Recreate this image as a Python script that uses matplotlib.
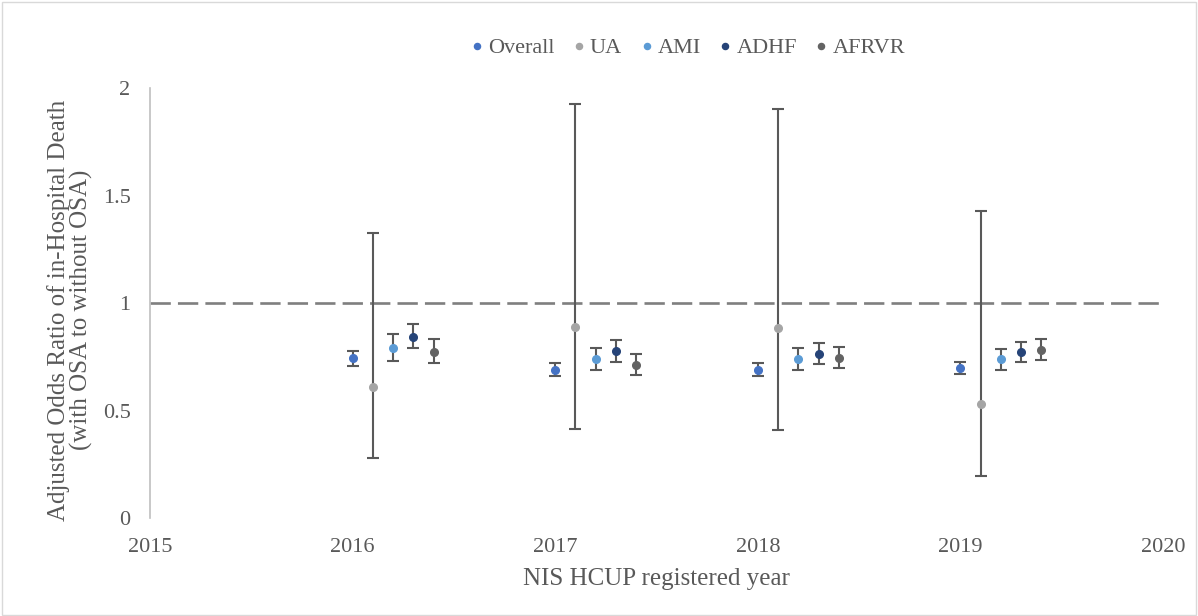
import numpy as np
import matplotlib
matplotlib.use('Agg')
import matplotlib.pyplot as plt

plt.rcParams['font.family'] = ['Liberation Serif', 'DejaVu Serif']

years = [2016, 2017, 2018, 2019]
series = ['Overall', 'UA', 'AMI', 'ADHF', 'AFRVR']
colors = ['#4472C4', '#A5A5A5', '#5B9BD5', '#264478', '#636363']

# odds ratio, lower CI, upper CI per year
overall = [0.744, 0.688, 0.688, 0.696]
overall_lo = [0.708, 0.660, 0.663, 0.670]
overall_hi = [0.777, 0.720, 0.720, 0.724]

ua = [0.611, 0.890, 0.882, 0.530]
ua_lo = [0.278, 0.413, 0.409, 0.197]
ua_hi = [1.327, 1.924, 1.902, 1.428]

ami = [0.789, 0.738, 0.738, 0.738]
ami_lo = [0.732, 0.688, 0.688, 0.688]
ami_hi = [0.855, 0.792, 0.792, 0.786]

adhf = [0.843, 0.777, 0.763, 0.774]
adhf_lo = [0.791, 0.727, 0.716, 0.727]
adhf_hi = [0.901, 0.828, 0.813, 0.818]

afrvr = [0.774, 0.712, 0.746, 0.781]
afrvr_lo = [0.720, 0.665, 0.699, 0.733]
afrvr_hi = [0.833, 0.761, 0.794, 0.831]

vals = [overall, ua, ami, adhf, afrvr]
los = [overall_lo, ua_lo, ami_lo, adhf_lo, afrvr_lo]
his = [overall_hi, ua_hi, ami_hi, adhf_hi, afrvr_hi]
offsets = [0.0, 0.1, 0.2, 0.3, 0.4]

fig = plt.figure(figsize=(11.98, 6.16), dpi=100)
ax = fig.add_axes([0.1252, 0.159, 0.8456, 0.698])

txt = '#595959'
ax.axhline(1, color='#7F7F7F', lw=1.9, ls=(0, (7.7, 2.7)), zorder=1)

for name, c, v, lo, hi, off in zip(series, colors, vals, los, his, offsets):
    x = np.array(years) + off
    v = np.array(v)
    yerr = [v - np.array(lo), np.array(hi) - v]
    ax.errorbar(x, v, yerr=yerr, fmt='none', ecolor='#595959', elinewidth=1.5,
                capsize=4, capthick=1.5, zorder=2)
    ax.plot(x, v, 'o', color=c, ms=5.5, label=name, zorder=3)

ax.set_xlim(2015, 2020)
ax.set_ylim(0, 2)
ax.set_xticks([2015, 2016, 2017, 2018, 2019, 2020])
ax.set_yticks([0, 0.5, 1, 1.5, 2])
ax.set_yticklabels(['0', '0.5', '1', '1.5', '2'])
for s in ['top', 'right', 'bottom']:
    ax.spines[s].set_visible(False)
ax.spines['left'].set_color('#BFBFBF')
ax.spines['left'].set_linewidth(1.2)
ax.tick_params(axis='both', length=0, labelsize=16, colors=txt)
ax.tick_params(axis='y', pad=14)
ax.tick_params(axis='x', pad=14)

ax.set_xlabel('NIS HCUP registered year', fontsize=18, color=txt)
ax.xaxis.set_label_coords(0.5, -0.116)
ax.set_ylabel('Adjusted Odds Ratio of in-Hospital Death\n(with OSA to without OSA)',
              fontsize=18, color=txt, linespacing=1.0)
ax.yaxis.set_label_coords(-0.0563, 0.484)

leg = fig.legend(loc='center', bbox_to_anchor=(0.574, 0.922), ncol=5, frameon=False,
                 fontsize=16, handlelength=0.6, handletextpad=0.2, columnspacing=0.8,
                 markerscale=0.8)
for t in leg.get_texts():
    t.set_color(txt)

# light border around the chart area
fig.patches.append(plt.Rectangle((0.002, 0.002), 0.996, 0.994, transform=fig.transFigure,
                                 fill=False, edgecolor='#D9D9D9', lw=1))

fig.savefig('out.png', dpi=100)
